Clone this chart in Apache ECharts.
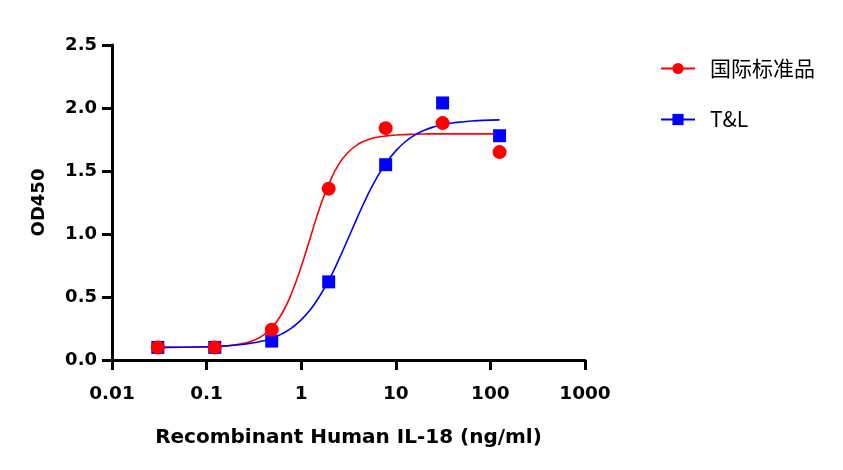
<!DOCTYPE html>
<html>
<head>
<meta charset="utf-8">
<script src="https://cdn.jsdelivr.net/npm/echarts@6/dist/echarts.min.js"></script>
<style>html,body{margin:0;padding:0;background:#fff}#c{width:843px;height:470px}</style>
</head>
<body>
<div id="c"></div>
<script>
var doses = [0.0305, 0.122, 0.488, 1.953, 7.8125, 31.25, 125];
var redPoints = [0.10, 0.10, 0.24, 1.36, 1.84, 1.88, 1.65];
var bluePoints = [0.10, 0.10, 0.15, 0.62, 1.55, 2.04, 1.78];

var curveX = [0.0305, 0.1, 0.158, 0.251, 0.316, 0.398, 0.501, 0.631, 0.794, 1, 1.26, 1.58, 2.0, 2.51, 3.16, 3.98, 5.01, 6.31, 7.94, 10, 12.6, 15.8, 20, 25.1, 31.6, 39.8, 63.1, 100, 125];
var redCurveY = [0.100, 0.103, 0.110, 0.132, 0.156, 0.197, 0.265, 0.373, 0.532, 0.741, 0.981, 1.215, 1.412, 1.556, 1.651, 1.712, 1.747, 1.768, 1.779, 1.786, 1.789, 1.792, 1.794, 1.795, 1.795, 1.795, 1.795, 1.795, 1.795];
var blueCurveY = [0.100, 0.105, 0.112, 0.125, 0.137, 0.152, 0.175, 0.209, 0.255, 0.318, 0.403, 0.511, 0.645, 0.801, 0.970, 1.142, 1.305, 1.448, 1.566, 1.660, 1.732, 1.785, 1.823, 1.850, 1.869, 1.881, 1.897, 1.904, 1.906];

var seriesNames = ['国际标准品', 'T&L'];
var xTickLabels = ['0.01', '0.1', '1', '10', '100', '1000'];
var xTitle = 'Recombinant Human IL-18 (ng/ml)';
var yTitle = 'OD450';

function zip(a, b) { return a.map(function (v, i) { return [v, b[i]]; }); }

var font = '"DejaVu Sans", sans-serif';
var chart = echarts.init(document.getElementById('c'));
chart.setOption({
  animation: false,
  backgroundColor: '#fff',
  grid: { left: 112, right: 258, top: 45, bottom: 110, containLabel: false },
  legend: {
    orient: 'vertical', left: 655, top: 53,
    itemWidth: 34, itemHeight: 14, itemGap: 30,
    data: seriesNames,
    textStyle: { fontSize: 21, color: '#000', fontFamily: '"Noto Sans CJK SC", "Noto Sans", sans-serif', padding: [0, 0, 0, 10] }
  },
  xAxis: {
    type: 'log', logBase: 10, min: 0.01, max: 1000,
    name: xTitle, nameLocation: 'middle', nameGap: 68,
    nameTextStyle: { fontSize: 20, fontWeight: 'bold', color: '#000', fontFamily: font },
    axisLine: { lineStyle: { color: '#000', width: 3 } },
    axisTick: { show: true, inside: false, length: 10, lineStyle: { color: '#000', width: 3 } },
    minorTick: { show: false },
    splitLine: { show: false },
    axisLabel: {
      margin: 25, fontSize: 18.5, fontWeight: 'bold', color: '#000', fontFamily: font,
      formatter: function (v) {
        var e = Math.round(Math.log10(v)) + 2;
        return xTickLabels[e] !== undefined ? xTickLabels[e] : '';
      }
    }
  },
  yAxis: {
    type: 'value', min: 0, max: 2.5, interval: 0.5,
    name: yTitle, nameLocation: 'middle', nameGap: 64, nameRotate: 90,
    nameTextStyle: { fontSize: 18, fontWeight: 'bold', color: '#000', fontFamily: font },
    axisLine: { show: true, lineStyle: { color: '#000', width: 3 } },
    axisTick: { show: true, inside: false, length: 10, lineStyle: { color: '#000', width: 3 } },
    splitLine: { show: false },
    axisLabel: {
      margin: 15, fontSize: 18, fontWeight: 'bold', color: '#000', fontFamily: font,
      formatter: function (v) { return v.toFixed(1); }
    }
  },
  series: [
    {
      name: seriesNames[0], type: 'line', data: zip(curveX, redCurveY),
      smooth: true, showSymbol: false, symbol: 'circle', symbolSize: 14,
      lineStyle: { color: '#ff0000', width: 1.6 }, itemStyle: { color: '#ff0000' }, z: 2
    },
    {
      name: seriesNames[1], type: 'line', data: zip(curveX, blueCurveY),
      smooth: true, showSymbol: false, symbol: 'rect', symbolSize: 13,
      lineStyle: { color: '#0000ff', width: 1.6 }, itemStyle: { color: '#0000ff' }, z: 2
    },
    {
      name: seriesNames[1], type: 'scatter', data: zip(doses, bluePoints),
      symbol: 'rect', symbolSize: 13, itemStyle: { color: '#0000ff', opacity: 1 }, z: 3
    },
    {
      name: seriesNames[0], type: 'scatter', data: zip(doses, redPoints),
      symbol: 'circle', symbolSize: 14, itemStyle: { color: '#ff0000', opacity: 1 }, z: 4
    }
  ]
});
</script>
</body>
</html>
